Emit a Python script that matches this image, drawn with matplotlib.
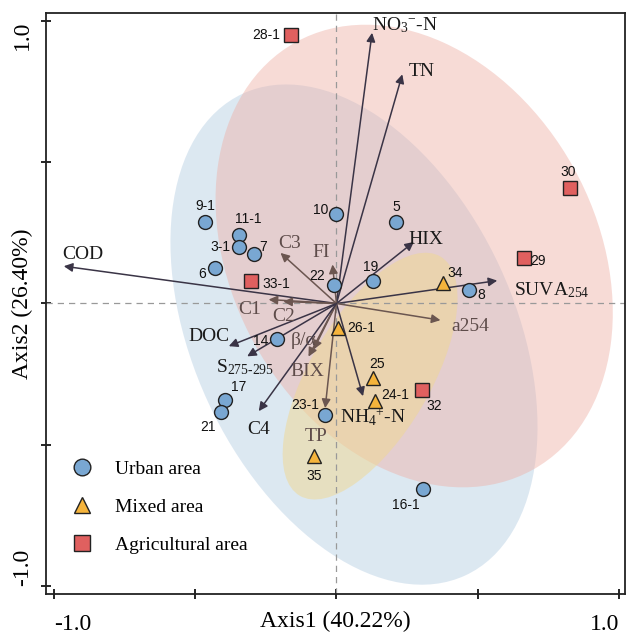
import matplotlib.pyplot as plt
from matplotlib.patches import Ellipse
from matplotlib.lines import Line2D

plt.rcParams['mathtext.fontset'] = 'custom'
plt.rcParams['mathtext.rm'] = 'Liberation Serif'
plt.rcParams['mathtext.it'] = 'Liberation Serif:italic'
plt.rcParams['mathtext.bf'] = 'Liberation Serif:bold'
plt.rcParams['mathtext.default'] = 'rm'

# sample scores (Axis1, Axis2)
urban_names = ['9-1', '11-1', '3-1', '7', '6', '10', '5', '19', '22', '8',
               '14', '17', '21', '23-1', '16-1']
urban_x = [-0.464, -0.346, -0.346, -0.293, -0.431, -0.001, 0.211, 0.128, -0.010, 0.468,
           -0.210, -0.396, -0.408, -0.042, 0.305]
urban_y = [0.288, 0.241, 0.199, 0.176, 0.126, 0.315, 0.288, 0.079, 0.064, 0.047,
           -0.127, -0.340, -0.385, -0.393, -0.655]

mixed_names = ['34', '26-1', '25', '24-1', '35']
mixed_x = [0.378, 0.004, 0.128, 0.135, -0.080]
mixed_y = [0.071, -0.086, -0.263, -0.346, -0.541]

agri_names = ['28-1', '30', '29', '33-1', '32']
agri_x = [-0.160, 0.828, 0.663, -0.301, 0.301]
agri_y = [0.949, 0.407, 0.162, 0.079, -0.307]

# variable loadings
var_names = ['COD', 'NO$_3$$^{-}$-N', 'TN', 'HIX', 'SUVA$_{254}$', 'FI', 'C3', 'C1', 'C2',
             'DOC', 'β/α', 'S$_{275\u2010295}$', 'BIX', 'a254',
             'NH$_4$$^{+}$-N', 'TP', 'C4']
var_x = [-0.965, 0.126, 0.233, 0.274, 0.569, -0.014, -0.198, -0.240, -0.188,
         -0.381, -0.081, -0.316, -0.099, 0.368, 0.094, -0.040, -0.275]
var_y = [0.132, 0.958, 0.811, 0.218, 0.081, 0.138, 0.179, 0.014, 0.007,
         -0.151, -0.163, -0.187, -0.188, -0.059, -0.328, -0.370, -0.381]
var_brown = [False, False, False, False, False, True, True, True, True,
             False, True, False, True, True, False, True, False]

# label placement (pixel offsets from point), layout only
urban_off = [(0, 16), (10, 16), (-18, 0), (9, 7), (-13, -6), (-15, 4), (0, 15), (-2, 14),
             (-17, 9), (13, -5), (-16, -2), (14, 13), (-13, -15), (-19, 10), (-17, -16)]
mixed_off = [(12, 10), (24, 0), (4, 14), (21, 6), (0, -20)]
agri_off = [(-25, 0), (-2, 16), (14, -3), (25, -3), (13, -16)]
var_lab = [(-0.896, 0.173), (0.244, 0.985), (0.300, 0.822), (0.315, 0.227), (0.761, 0.046),
           (-0.053, 0.181), (-0.166, 0.212), (-0.308, -0.021), (-0.188, -0.046),
           (-0.450, -0.117), (-0.117, -0.131), (-0.322, -0.227), (-0.103, -0.241),
           (0.474, -0.081), (0.131, -0.404), (-0.071, -0.471), (-0.276, -0.446)]

serif = 'Liberation Serif'
sans = 'Liberation Sans'

fig = plt.figure(figsize=(6.29, 6.38), dpi=100)
ax = fig.add_axes([0.0731, 0.069, 0.9205, 0.9106])
ax.set_xlim(-1.028, 1.021)
ax.set_ylim(-1.028, 1.028)

# confidence ellipses
ax.add_patch(Ellipse((0.062, -0.110), 1.878, 1.138, angle=-65.2,
                     facecolor='#b3cce2', alpha=0.45, lw=0, zorder=1))
ax.add_patch(Ellipse((0.275, 0.168), 1.73, 1.29, angle=-61,
                     facecolor='#eeb0a6', alpha=0.45, lw=0, zorder=1))
ax.add_patch(Ellipse((0.119, -0.257), 0.982, 0.426, angle=59.5,
                     facecolor='#f0d890', alpha=0.5, lw=0, zorder=1))

ax.axhline(0, color='#999999', ls=(0, (5, 4)), lw=0.9, zorder=2)
ax.axvline(0, color='#999999', ls=(0, (5, 4)), lw=0.9, zorder=2)

for i in range(len(var_names)):
    c = '#6b5650' if var_brown[i] else '#3a3446'
    ax.annotate('', xy=(var_x[i], var_y[i]), xytext=(0, 0),
                arrowprops=dict(arrowstyle='-|>', color=c, lw=1.1,
                                mutation_scale=13, shrinkA=0, shrinkB=0),
                zorder=3)
    tc = '#5e4c4a' if var_brown[i] else '#1a1a1a'
    ax.text(var_lab[i][0], var_lab[i][1], var_names[i], fontsize=14, family=serif,
            color=tc, ha='center', va='center', zorder=4)

groups = [
    (urban_x, urban_y, urban_names, urban_off, 'o', '#79a7d2', 10),
    (mixed_x, mixed_y, mixed_names, mixed_off, '^', '#f5b43c', 10),
    (agri_x, agri_y, agri_names, agri_off, 's', '#e0605f', 9.5),
]
for gx, gy, names, offs, m, col, ms in groups:
    ax.plot(gx, gy, ls='none', marker=m, ms=ms, mfc=col, mec='#222222', mew=1.0, zorder=5)
    for x, y, n, o in zip(gx, gy, names, offs):
        ax.annotate(n, (x, y), xytext=o, textcoords='offset pixels', fontsize=10,
                    family=sans, ha='center', va='center', color='#111111', zorder=6)

handles = [
    Line2D([], [], ls='none', marker='o', ms=12, mfc='#79a7d2', mec='#222222', mew=1.0),
    Line2D([], [], ls='none', marker='^', ms=12, mfc='#f5b43c', mec='#222222', mew=1.0),
    Line2D([], [], ls='none', marker='s', ms=11, mfc='#e0605f', mec='#222222', mew=1.0),
]
leg = ax.legend(handles, ['Urban area', 'Mixed area', 'Agricultural area'],
                loc='upper left', bbox_to_anchor=(0.032, 0.244), frameon=False,
                prop={'family': serif, 'size': 14}, labelspacing=1.05,
                handlelength=1.0, handletextpad=1.2, borderaxespad=0)
leg.set_zorder(7)

ax.set_xticks([-1.0, -0.5, 0.0, 0.5, 1.0])
ax.set_xticklabels(['-1.0', '', '', '', '1.0'])
ax.set_yticks([-1.0, -0.5, 0.0, 0.5, 1.0])
ax.set_yticklabels(['-1.0', '', '', '', '1.0'], rotation=90)
ax.tick_params(direction='inout', length=7, width=1.2, labelsize=17)
ax.tick_params(axis='x', pad=11)
ax.tick_params(axis='y', pad=6)
for lab in ax.get_xticklabels() + ax.get_yticklabels():
    lab.set_family(serif)
xl = ax.get_xticklabels()
xl[0].set_ha('left')
xl[-1].set_ha('right')
yl = ax.get_yticklabels()
yl[0].set_va('bottom')
yl[-1].set_va('top')
for s in ax.spines.values():
    s.set_linewidth(1.3)
    s.set_color('#222222')

ax.set_xlabel('Axis1 (40.22%)', fontsize=17, family=serif, va='center')
ax.set_ylabel('Axis2 (26.40%)', fontsize=17, family=serif, va='center')
ax.xaxis.set_label_coords(0.5, -0.047)
ax.yaxis.set_label_coords(-0.040, 0.5)

fig.savefig('out.png', dpi=100)
